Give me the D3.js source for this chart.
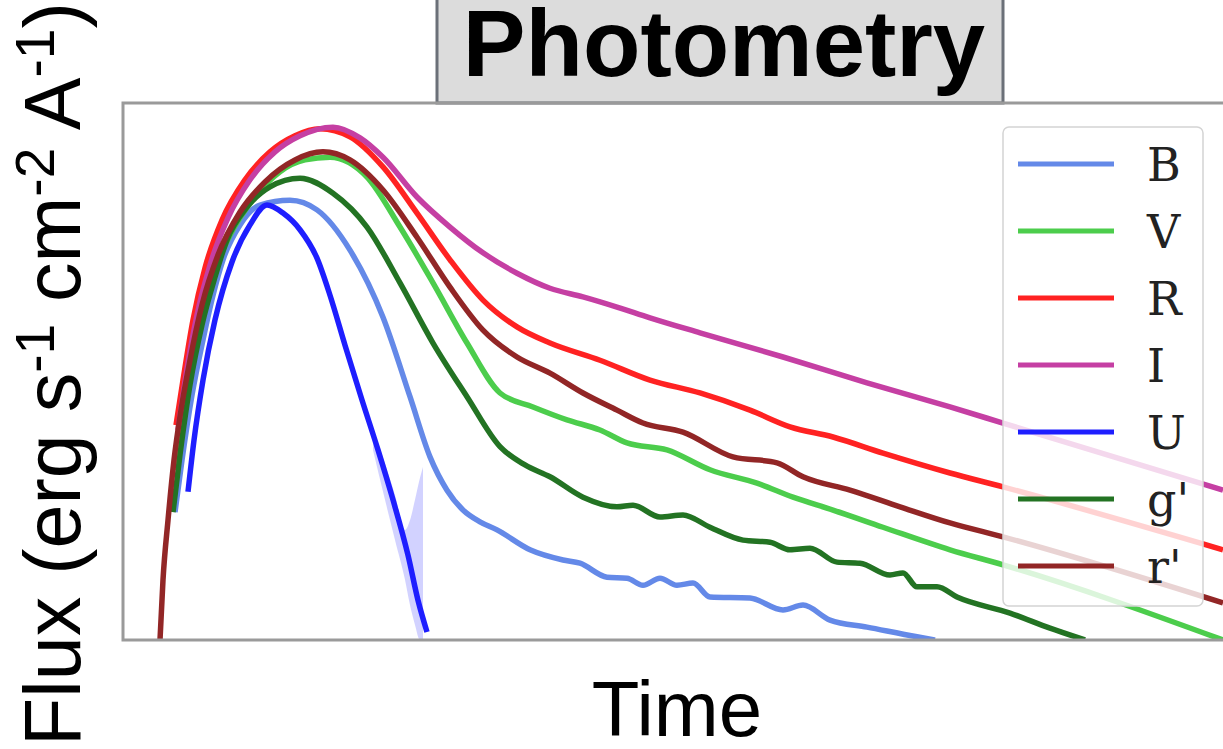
<!DOCTYPE html>
<html>
<head>
<meta charset="utf-8">
<script src="https://cdn.jsdelivr.net/npm/d3@7"></script>
<style>
  html, body { margin: 0; padding: 0; background: #fff; overflow: hidden; }
  svg { display: block; }
</style>
</head>
<body>
<svg id="chart" width="1223" height="749"></svg>
<script>
// Light curves: [time (days), flux (arbitrary units)]
const bandNames = ["B", "V", "R", "I", "U", "g'", "r'"];
const bandColors = ["#6489e8", "#4ccd4c", "#ff2222", "#c53fa3", "#1e1eff", "#237323", "#922626"];

const fluxB = [[5.2,0.238],[5.9,0.335],[6.9,0.456],[8.0,0.559],[9.0,0.642],[10.0,0.708],[11.7,0.773],[13.7,0.810],[16.7,0.819],[19.4,0.801],[22.7,0.726],[26.0,0.601],[28.7,0.453],[30.7,0.341],[32.4,0.279],[34.0,0.242],[35.7,0.220],[37.4,0.205],[40.7,0.168],[44.0,0.149],[45.7,0.143],[48.4,0.117],[50.4,0.115],[52.0,0.102],[53.7,0.115],[55.4,0.102],[57.0,0.106],[58.7,0.080],[62.7,0.078],[66.0,0.056],[68.0,0.065],[70.7,0.037],[74.4,0.024],[79.4,0.006],[81.2,0.0]];
const fluxV = [[5.1,0.317],[5.9,0.410],[7.2,0.549],[8.7,0.661],[10.7,0.754],[13.2,0.825],[15.7,0.872],[18.2,0.894],[20.7,0.899],[24.4,0.862],[27.7,0.769],[31.0,0.665],[34.4,0.553],[37.7,0.460],[41.0,0.434],[44.4,0.410],[47.7,0.391],[50.4,0.367],[54.4,0.354],[58.7,0.317],[63.4,0.292],[67.0,0.266],[71.0,0.242],[76.0,0.210],[82.7,0.168],[88.0,0.140],[110,0.0]];
const fluxR = [[5.3,0.400],[6.0,0.484],[7.0,0.596],[8.2,0.693],[9.9,0.782],[12.2,0.857],[14.7,0.909],[17.2,0.939],[19.7,0.952],[22.7,0.937],[26.0,0.881],[29.4,0.795],[32.7,0.708],[36.0,0.633],[39.4,0.583],[42.7,0.553],[47.7,0.521],[52.7,0.484],[57.7,0.460],[62.7,0.428],[66.7,0.397],[71.0,0.378],[76.0,0.348],[82.7,0.311],[88.0,0.285],[110,0.168]];
const fluxI = [[5.5,0.391],[6.3,0.493],[7.4,0.605],[8.7,0.698],[10.5,0.786],[12.7,0.857],[15.2,0.909],[17.7,0.939],[21.0,0.955],[23.7,0.935],[26.0,0.899],[29.4,0.825],[32.7,0.769],[36.0,0.721],[39.4,0.683],[42.7,0.655],[46.0,0.639],[49.4,0.620],[52.7,0.600],[57.7,0.572],[66.0,0.527],[74.4,0.479],[82.7,0.434],[88.0,0.404],[110,0.279]];
const fluxU = [[6.5,0.276],[7.1,0.372],[8.0,0.484],[9.2,0.596],[10.9,0.704],[12.7,0.773],[14.4,0.810],[16.0,0.795],[17.7,0.764],[19.4,0.711],[20.7,0.642],[22.2,0.549],[23.9,0.447],[25.5,0.354],[27.0,0.261],[28.5,0.158],[29.5,0.074],[30.4,0.015]];
const fluxG = [[5.0,0.238],[5.7,0.345],[6.7,0.475],[7.9,0.587],[9.2,0.676],[10.4,0.745],[12.4,0.806],[14.7,0.844],[17.7,0.860],[21.0,0.832],[24.4,0.769],[27.7,0.665],[31.0,0.553],[34.4,0.453],[37.7,0.360],[40.2,0.326],[42.7,0.304],[46.0,0.266],[49.4,0.248],[51.0,0.251],[53.7,0.229],[56.0,0.233],[58.7,0.210],[62.0,0.186],[64.7,0.182],[66.7,0.168],[68.7,0.171],[71.4,0.145],[73.7,0.143],[76.7,0.121],[78.0,0.125],[79.4,0.099],[81.4,0.099],[83.4,0.080],[88.7,0.050],[92.7,0.022],[96.2,0.0]];
const fluxRp = [[3.7,0.0],[4.0,0.112],[4.5,0.223],[5.1,0.335],[5.8,0.428],[6.7,0.521],[7.9,0.624],[9.5,0.717],[11.7,0.797],[14.2,0.853],[17.2,0.894],[20.0,0.909],[22.7,0.894],[26.0,0.838],[29.4,0.750],[32.7,0.657],[36.0,0.577],[39.4,0.527],[42.7,0.497],[46.0,0.460],[49.4,0.428],[52.0,0.404],[56.0,0.387],[61.0,0.341],[65.4,0.330],[68.0,0.304],[72.7,0.279],[77.7,0.248],[82.7,0.218],[88.0,0.192],[110,0.069]];

// Uncertainty envelope of the U band near its fade: [time, low, high]
const bandU = [[25.0,0.354,0.395],[26.2,0.261,0.328],[27.2,0.186,0.270],[28.2,0.112,0.205],[28.7,0.065,0.223],[29.2,0.028,0.261],[29.7,0.0,0.302],[30.0,0.0,0.322]];

const series = [fluxB, fluxV, fluxR, fluxI, fluxU, fluxG, fluxRp];

const svg = d3.select("#chart");
const plotLeft = 123, plotTop = 103, plotBottom = 640, plotRight = 1223;

const x = d3.scaleLinear().domain([0, 110]).range([plotLeft, plotRight]);
const y = d3.scaleLinear().domain([0, 1]).range([plotBottom, plotTop]);

svg.append("defs").append("clipPath").attr("id", "plot-clip")
  .append("rect").attr("x", plotLeft).attr("y", plotTop)
  .attr("width", plotRight - plotLeft + 20).attr("height", plotBottom - plotTop);

// Title box
svg.append("rect")
  .attr("x", 437).attr("y", -10).attr("width", 566).attr("height", 113)
  .attr("fill", "#dcdcdc").attr("stroke", "#6b7078").attr("stroke-width", 3);
svg.append("text")
  .attr("x", 724).attr("y", 76)
  .attr("text-anchor", "middle")
  .attr("font-family", "'Liberation Sans', Arial, sans-serif")
  .attr("font-weight", "bold").attr("font-size", 94)
  .attr("fill", "#000")
  .text("Photometry");

const plot = svg.append("g").attr("clip-path", "url(#plot-clip)");

// U band envelope
plot.append("path")
  .datum(bandU)
  .attr("fill", "#1e1eff").attr("fill-opacity", 0.2)
  .attr("d", d3.area().x(d => x(d[0])).y0(d => y(d[1])).y1(d => y(d[2])).curve(d3.curveMonotoneX));

const line = d3.line().x(d => x(d[0])).y(d => y(d[1])).curve(d3.curveMonotoneX);

series.forEach((s, i) => {
  plot.append("path")
    .datum(s)
    .attr("fill", "none")
    .attr("stroke", bandColors[i])
    .attr("stroke-width", 5.5)
    .attr("stroke-linejoin", "round")
    .attr("stroke-linecap", "butt")
    .attr("d", line);
});

// Axes frame (left, top, bottom)
svg.append("path")
  .attr("d", `M${plotRight + 10},${plotTop}H${plotLeft}V${plotBottom}H${plotRight + 10}`)
  .attr("fill", "none").attr("stroke", "#9a9a9a").attr("stroke-width", 3);

// Legend
const legend = svg.append("g");
legend.append("rect")
  .attr("x", 1003).attr("y", 127).attr("width", 200).attr("height", 479)
  .attr("rx", 6)
  .attr("fill", "#fff").attr("fill-opacity", 0.8)
  .attr("stroke", "#d4d4d4").attr("stroke-width", 1.5);
bandNames.forEach((name, i) => {
  const ly = 164 + i * 67;
  legend.append("line")
    .attr("x1", 1018).attr("x2", 1114).attr("y1", ly).attr("y2", ly)
    .attr("stroke", bandColors[i]).attr("stroke-width", 5);
  legend.append("text")
    .attr("x", 1147).attr("y", ly + 17)
    .attr("font-family", "'DejaVu Serif', serif")
    .attr("font-size", 46).attr("fill", "#222")
    .text(name);
});

// Axis titles
svg.append("text")
  .attr("x", 677).attr("y", 736)
  .attr("text-anchor", "middle")
  .attr("font-family", "'Liberation Sans', Arial, sans-serif")
  .attr("font-size", 78).attr("fill", "#000")
  .text("Time");

const ylab = svg.append("text")
  .attr("transform", "translate(80,746) rotate(-90)")
  .attr("font-family", "'Liberation Sans', Arial, sans-serif")
  .attr("font-size", 79).attr("fill", "#000");
const ylabParts = [["Flux (erg s", false], ["-1", true], [" cm", false], ["-2", true], [" A", false], ["-1", true], [")", false]];
ylabParts.forEach(([t, sup], i) => {
  const prevSup = i > 0 && ylabParts[i - 1][1];
  ylab.append("tspan")
    .attr("dy", sup ? -26 : (prevSup ? 26 : 0))
    .attr("font-size", sup ? 55 : 79)
    .text(t);
});
</script>
</body>
</html>
